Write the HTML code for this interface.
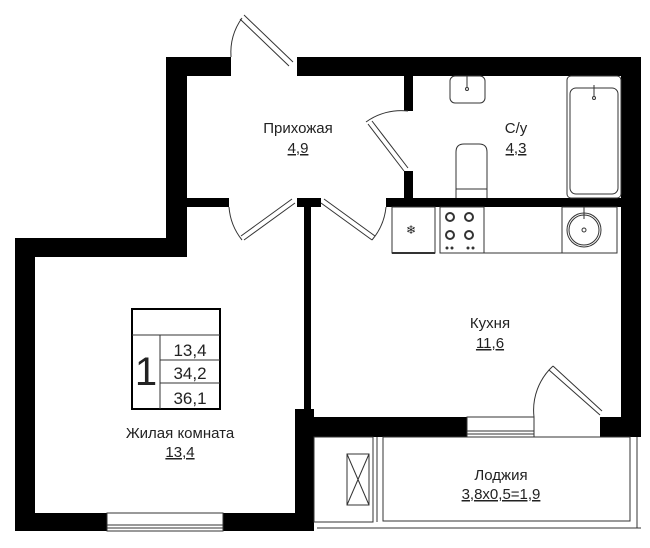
<!DOCTYPE html>
<html><head><meta charset="utf-8"><style>
html,body{margin:0;padding:0;background:#fff;width:650px;height:548px;overflow:hidden}
svg{display:block}
text{font-family:"Liberation Sans",sans-serif;fill:#222;text-anchor:middle}
.l{font-size:15px}
</style></head><body>
<svg width="650" height="548" viewBox="0 0 650 548" xmlns="http://www.w3.org/2000/svg">
<g fill="#000">
<rect x="166" y="57" width="65" height="19"/>
<rect x="297" y="57" width="344" height="19"/>
<rect x="166" y="57" width="21" height="200"/>
<rect x="15" y="238" width="172" height="19"/>
<rect x="15" y="238" width="20" height="293"/>
<rect x="621" y="57" width="20" height="380"/>
<rect x="600" y="417" width="41" height="20"/>
<rect x="404" y="76" width="9" height="35"/>
<rect x="404" y="171" width="9" height="30"/>
<rect x="187" y="198" width="42" height="9"/>
<rect x="297" y="198" width="24" height="9"/>
<rect x="386" y="198" width="236" height="9"/>
<rect x="304" y="207" width="7" height="210"/>
<rect x="15" y="513" width="280" height="18"/>
<rect x="295" y="409" width="19" height="122"/>
<rect x="314" y="417" width="153" height="20"/>
</g>
<g fill="none" stroke="#333" stroke-width="1">
<rect x="107" y="513" width="116" height="18" fill="#fff"/>
<line x1="107" y1="525" x2="223" y2="525"/><line x1="107" y1="528" x2="223" y2="528"/>
<rect x="467" y="417" width="67" height="20" fill="#fff"/>
<line x1="467" y1="431" x2="534" y2="431"/><line x1="467" y1="434" x2="534" y2="434"/>
<rect x="314" y="437" width="59" height="85"/>
<line x1="377" y1="437" x2="377" y2="522"/>
<rect x="383" y="437" width="247" height="84"/>
<line x1="317" y1="528" x2="641" y2="528"/>
<line x1="637" y1="437" x2="637" y2="528"/>
<rect x="347" y="454" width="22" height="51"/>
<line x1="347" y1="454" x2="369" y2="505"/><line x1="369" y1="454" x2="347" y2="505"/>
<path d="M231 57 A60 60 0 0 1 242 18"/>
<path d="M244 15 L293 62 M240 19 L289 66" />
<path d="M408 111 A60 60 0 0 0 366 122"/>
<path d="M368 124 L404 171 M372 121 L408 168"/>
<path d="M229 207 A60 60 0 0 0 242 240"/>
<path d="M244 240 L295 203 M241 236 L292 199"/>
<path d="M386 207 A60 60 0 0 1 372 240"/>
<path d="M321 203 L372 240 M324 199 L375 236"/>
<path d="M534 417 A60 60 0 0 1 553 366"/>
<path d="M549 370 L600 415 M553 366 L602 411"/>
<rect x="450" y="76" width="35" height="27" rx="5"/>
<circle cx="467" cy="89" r="1.5"/><line x1="467" y1="76" x2="467" y2="87"/>
<path d="M456 198 L456 152 Q456 144 464 144 L479 144 Q487 144 487 152 L487 198"/>
<line x1="456" y1="189" x2="487" y2="189"/>
<rect x="567" y="76" width="54" height="122" rx="4"/>
<rect x="570" y="88" width="48" height="106" rx="6"/>
<circle cx="594" cy="98" r="1.5"/><line x1="594" y1="85" x2="594" y2="96"/>
<rect x="392" y="207" width="43" height="46"/>
<line x1="392" y1="253" x2="435" y2="253" stroke-width="2"/>
<rect x="440" y="207" width="44" height="46"/>
<line x1="484" y1="253" x2="562" y2="253"/>
<rect x="562" y="207" width="55" height="46"/>
<circle cx="584" cy="230" r="17"/><circle cx="584" cy="230" r="15"/><circle cx="584" cy="230" r="2"/>
<line x1="584" y1="207" x2="584" y2="219"/>
<circle cx="450" cy="217" r="4" stroke-width="2"/><circle cx="469" cy="217" r="4" stroke-width="2"/>
<circle cx="450" cy="235" r="4" stroke-width="2"/><circle cx="469" cy="235" r="4" stroke-width="2"/>
<rect x="132" y="309" width="88" height="100" stroke="#000" stroke-width="2"/>
<line x1="132" y1="335" x2="220" y2="335"/>
<line x1="160" y1="335" x2="160" y2="409"/>
<line x1="160" y1="360" x2="220" y2="360"/>
<line x1="160" y1="383" x2="220" y2="383"/>
</g>
<g fill="#333"><circle cx="447" cy="248" r="1.5"/><circle cx="452" cy="248" r="1.5"/><circle cx="468" cy="248" r="1.5"/><circle cx="473" cy="248" r="1.5"/></g>
<text x="411" y="234" style="font-size:12px">❄</text>
<text x="146" y="385" style="font-size:40px;font-weight:300">1</text>
<text x="190" y="356" style="font-size:17px">13,4</text>
<text x="190" y="379" style="font-size:17px">34,2</text>
<text x="190" y="404" style="font-size:17px">36,1</text>
<text class="l" x="298" y="133">Прихожая</text>
<text class="l" x="298" y="153" text-decoration="underline">4,9</text>
<text class="l" x="516" y="133">С/у</text>
<text class="l" x="516" y="153" text-decoration="underline">4,3</text>
<text class="l" x="490" y="328">Кухня</text>
<text class="l" x="490" y="348" text-decoration="underline">11,6</text>
<text class="l" x="180" y="438">Жилая комната</text>
<text class="l" x="180" y="457" text-decoration="underline">13,4</text>
<text class="l" x="501" y="480">Лоджия</text>
<text class="l" x="501" y="499" text-decoration="underline">3,8x0,5=1,9</text>
</svg>
</body></html>
